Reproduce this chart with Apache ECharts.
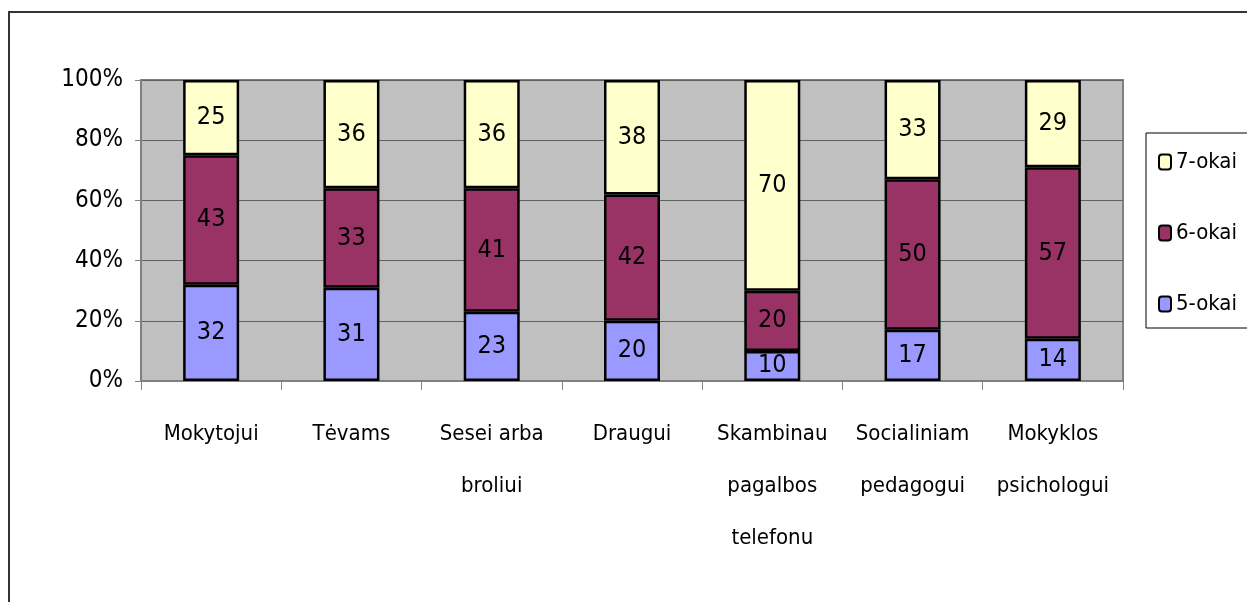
<!DOCTYPE html>
<html>
<head>
<meta charset="utf-8">
<script src="https://cdn.jsdelivr.net/npm/echarts@6/dist/echarts.min.js"></script>
<style>
  html, body { margin: 0; padding: 0; background: #fff; }
  #chart { width: 1247px; height: 602px; }
</style>
</head>
<body>
<div id="chart"></div>
<script>
const categories = [
  "Mokytojui",
  "Tėvams",
  "Sesei arba\nbroliui",
  "Draugui",
  "Skambinau\npagalbos\ntelefonu",
  "Socialiniam\npedagogui",
  "Mokyklos\npsichologui"
];
const penki = [32, 31, 23, 20, 10, 17, 14];
const sesi = [43, 33, 41, 42, 20, 50, 57];
const septyni = [25, 36, 36, 38, 70, 33, 29];

const FONT = "'Liberation Sans Narrow', 'DejaVu Sans Condensed', sans-serif";

function barSeries(name, data, color) {
  return {
    name,
    type: "bar",
    stack: "total",
    data,
    barWidth: 56,
    itemStyle: { color, borderColor: "#000", borderWidth: 2.5 },
    label: {
      show: true,
      position: "inside",
      color: "#000",
      fontSize: 25,
      fontFamily: FONT
    }
  };
}

const chart = echarts.init(document.getElementById("chart"));
chart.setOption({
  animation: false,
  graphic: [
    {
      type: "rect",
      shape: { x: 9, y: 12, width: 1300, height: 700 },
      style: { fill: "none", stroke: "#333", lineWidth: 2 },
      z: 0
    },
    {
      type: "rect",
      shape: { x: 1146, y: 133, width: 200, height: 195 },
      style: { fill: "#fff", stroke: "#000", lineWidth: 1 },
      z: 0
    }
  ],
  grid: {
    left: 141,
    right: 124,
    top: 80,
    bottom: 221,
    show: true,
    backgroundColor: "#C0C0C0",
    borderColor: "#808080",
    borderWidth: 2
  },
  legend: {
    orient: "vertical",
    left: 1153,
    top: 146,
    data: ["7-okai", "6-okai", "5-okai"],
    itemWidth: 12,
    itemHeight: 15,
    itemGap: 49,
    textStyle: { fontSize: 22, fontFamily: FONT, color: "#000" },
    z: 5
  },
  xAxis: {
    type: "category",
    data: categories,
    axisLine: { lineStyle: { color: "#808080", width: 1 } },
    axisTick: { show: true, length: 9, lineStyle: { color: "#808080" } },
    axisLabel: {
      color: "#000",
      fontSize: 22,
      fontFamily: FONT,
      lineHeight: 52,
      margin: 27,
      interval: 0
    }
  },
  yAxis: {
    type: "value",
    min: 0,
    max: 100,
    interval: 20,
    axisLine: { show: true, lineStyle: { color: "#808080", width: 2 } },
    axisTick: { show: true, length: 6, lineStyle: { color: "#808080" } },
    axisLabel: {
      formatter: "{value}%",
      color: "#000",
      fontSize: 24,
      fontFamily: FONT,
      margin: 18
    },
    splitLine: { lineStyle: { color: "#606060", width: 1 } }
  },
  series: [
    barSeries("5-okai", penki, "#9999FF"),
    barSeries("6-okai", sesi, "#993366"),
    barSeries("7-okai", septyni, "#FFFFCC")
  ]
});
</script>
</body>
</html>
